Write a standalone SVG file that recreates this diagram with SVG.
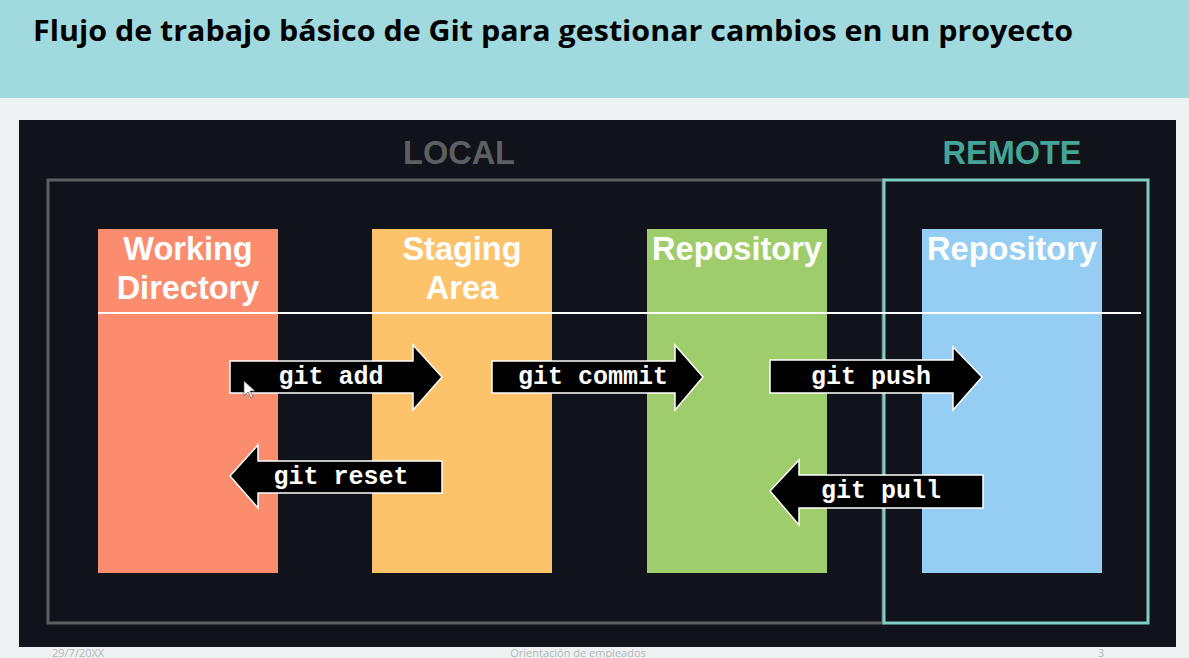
<svg xmlns="http://www.w3.org/2000/svg" width="1189" height="658" viewBox="0 0 1189 658">
<style>
.col{font-family:"Liberation Sans",Arial,sans-serif;font-weight:bold;font-size:32.5px;fill:#ffffff;text-anchor:middle}
.cmd{font-family:"Liberation Mono","DejaVu Sans Mono",monospace;font-weight:bold;font-size:25px;fill:#ffffff;text-anchor:middle}
.arrow{fill:#000000;stroke:#ffffff;stroke-width:1.5;stroke-linejoin:miter}
.area{font-family:"Liberation Sans",Arial,sans-serif;font-weight:bold;font-size:32.5px;text-anchor:middle}
.foot{font-family:"Open Sans","Liberation Sans",sans-serif;font-size:11px;fill:#b5b9bb}
</style>
<rect x="0" y="0" width="1189" height="658" fill="#edf1f2"/>
<rect x="0" y="0" width="1189" height="98" fill="#a0dadf"/>
<text x="33" y="41" font-family="'Open Sans','Noto Sans',sans-serif" font-weight="bold" font-size="29" fill="#000000" textLength="1040" lengthAdjust="spacingAndGlyphs">Flujo de trabajo básico de Git para gestionar cambios en un proyecto</text>
<rect x="19" y="120" width="1157" height="527" fill="#10131a"/>
<g id="local">
<rect x="48" y="180" width="835" height="443" fill="none" stroke="#5e5f63" stroke-width="3"/>
<text class="area" x="459" y="164" fill="#5d5f63">LOCAL</text>
</g>
<g id="remote">
<rect x="884" y="180" width="264" height="443" fill="none" stroke="#7ecfc4" stroke-width="3"/>
<text class="area" x="1012" y="164" fill="#44a597">REMOTE</text>
</g>
<g id="working-directory">
<rect x="98" y="229" width="180" height="344" fill="#fb8c6e"/>
<text class="col" x="188" y="260">Working</text>
<text class="col" x="188" y="299">Directory</text>
</g>
<g id="staging-area">
<rect x="372" y="229" width="180" height="344" fill="#fdc36b"/>
<text class="col" x="462" y="260">Staging</text>
<text class="col" x="462" y="299">Area</text>
</g>
<g id="local-repository">
<rect x="647" y="229" width="180" height="344" fill="#a0cd6c"/>
<text class="col" x="737" y="260">Repository</text>
</g>
<g id="remote-repository">
<rect x="922" y="229" width="180" height="344" fill="#96cdf3"/>
<text class="col" x="1012" y="260">Repository</text>
</g>
<line x1="98" y1="313" x2="1141" y2="313" stroke="#ffffff" stroke-width="2"/>
<g id="connectors">
<g id="git-add">
<polygon class="arrow" points="230,361 413,361 413,345 442,377 413,410 413,393 230,393"/>
<text class="cmd" x="331" y="384">git add</text>
</g>
<g id="git-commit">
<polygon class="arrow" points="492,361 675,361 675,345 703,377 675,410 675,393 492,393"/>
<text class="cmd" x="593" y="384">git commit</text>
</g>
<g id="git-push">
<polygon class="arrow" points="770,360 953,360 953,347 982,377 953,410 953,393 770,393"/>
<text class="cmd" x="871" y="384">git push</text>
</g>
<g id="git-reset">
<polygon class="arrow" points="230,476 258,445 258,461 442,461 442,493 258,493 258,508"/>
<text class="cmd" x="341" y="484">git reset</text>
</g>
<g id="git-pull">
<polygon class="arrow" points="770,491 799,460 799,475 983,475 983,508 799,508 799,525"/>
<text class="cmd" x="881" y="498">git pull</text>
</g>
</g>
<polygon points="244,381 244,396 248,392 251,398 253,397 250,391 255,391" fill="#ffffff" stroke="#555" stroke-width="0.7"/>
<text class="foot" x="52" y="657">29/7/20XX</text>
<text class="foot" x="578" y="657" text-anchor="middle">Orientación de empleados</text>
<text class="foot" x="1098" y="657">3</text>
</svg>
